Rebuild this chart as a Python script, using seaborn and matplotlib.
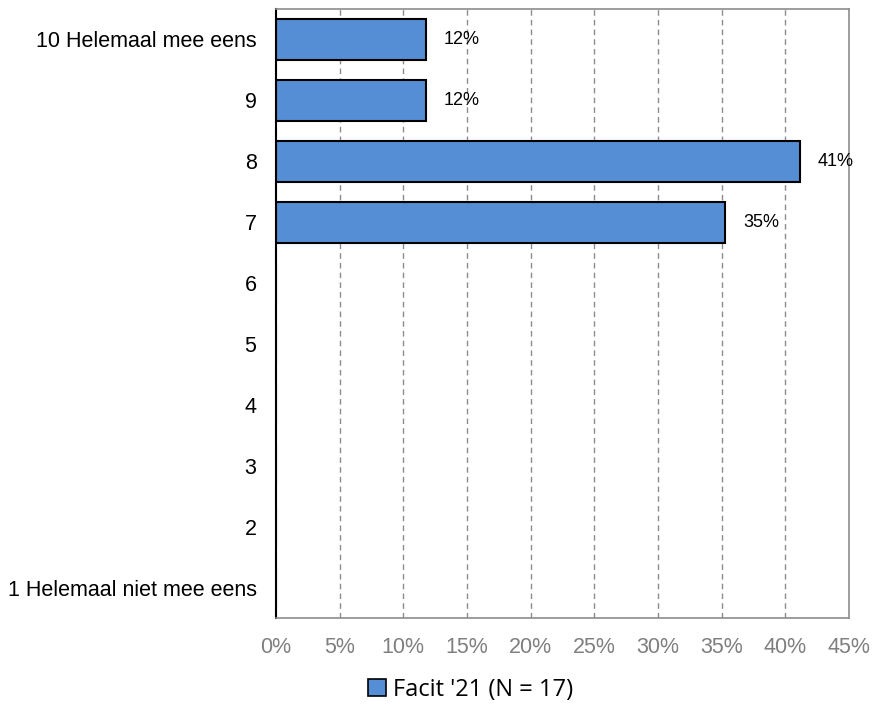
import numpy as np
import pandas as pd
import matplotlib
matplotlib.use("Agg")
import matplotlib.pyplot as plt
import seaborn as sns
from matplotlib.patches import Patch

#DATA
categories = ["10 Helemaal mee eens", "9", "8", "7", "6", "5", "4", "3", "2",
              "1 Helemaal niet mee eens"]
counts = [2, 2, 7, 6, 0, 0, 0, 0, 0, 0]
n_total = 17
percent = [c / n_total * 100 for c in counts]
xticks = [0, 5, 10, 15, 20, 25, 30, 35, 40, 45]
series_name = "Facit '21 (N = 17)"

df = pd.DataFrame({"categorie": categories, "procent": percent})

sns.set_style("white")
plt.rcParams["font.family"] = ["Liberation Sans", "DejaVu Sans"]

fig = plt.figure(figsize=(8.72, 7.11), dpi=100)
ax = fig.add_axes([0.3165, 0.1308, 0.657, 0.8565])

sns.barplot(data=df, x="procent", y="categorie", order=categories,
            color="#558ed5", saturation=1, edgecolor="black", linewidth=1.5,
            width=0.67, orient="h", ax=ax)

# value labels (only bars with a value)
for i, p in enumerate(percent):
    if counts[i] > 0:
        ax.text(p + 1.4, i, f"{p:.0f}%", va="center", ha="left", fontsize=13,
                color="black")

ax.set_xlim(0, 45)
ax.set_xticks(xticks)
ax.set_xticklabels([f"{t}%" for t in xticks], color="#7f7f7f", fontsize=15.5)
ax.tick_params(axis="y", labelsize=15.5, labelcolor="black", length=0, pad=14)
ax.tick_params(axis="x", length=0, pad=14)
ax.set_xlabel("")
ax.set_ylabel("")

for t in xticks[1:-1]:
    ax.axvline(t, color="#8c8c8c", linestyle=(0, (4, 3)), linewidth=1, zorder=0)

ax.spines["left"].set_color("black")
ax.spines["left"].set_linewidth(1.5)
for s in ["bottom", "top", "right"]:
    ax.spines[s].set_color("#8c8c8c")
    ax.spines[s].set_linewidth(1.2)

handle = [Patch(facecolor="#558ed5", edgecolor="black", linewidth=1.2, label=series_name)]
fig.legend(handles=handle, loc="center", bbox_to_anchor=(0.54, 0.03), frameon=False,
           handlelength=0.75, handleheight=0.75, handletextpad=0.3,
           labelcolor="black",
           prop={"family": ["Open Sans", "DejaVu Sans"], "size": 17})

fig.savefig("out.png", dpi=100)
